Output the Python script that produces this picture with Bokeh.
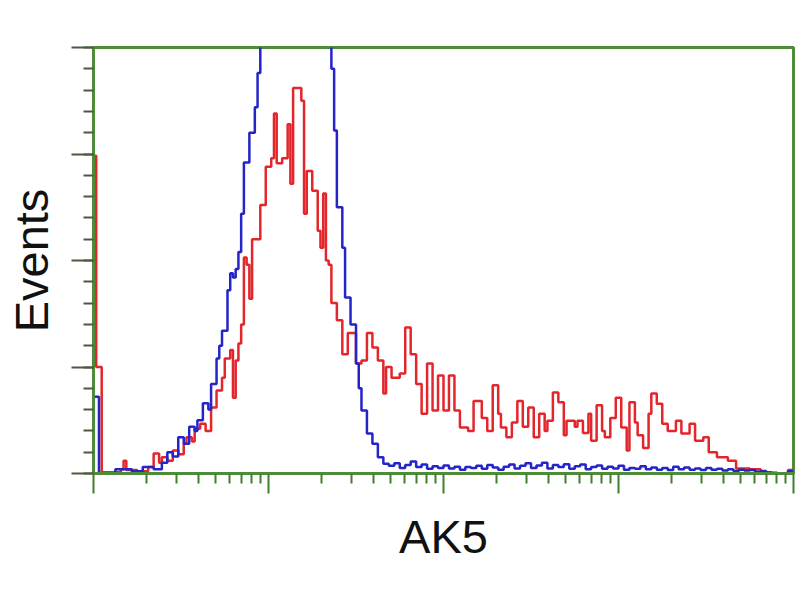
from bokeh.plotting import figure
from bokeh.models import Range1d, FixedTicker, CustomJSTickFormatter
from bokeh.embed import file_html
from bokeh.resources import INLINE

# ---- data (256-channel log histogram, 4 decades) ----
CHANNELS_PER_DECADE = 64

red_channel = [0, 1, 3, 10, 11, 12, 16, 20, 22, 24, 25, 27, 29, 31, 33, 34, 36, 37, 39, 41,
               43, 45, 47, 48, 50, 51, 52, 53, 54, 55, 56, 57, 58, 61, 63, 65, 66, 67, 69, 71,
               72, 73, 76, 77, 78, 80, 82, 83, 84, 85, 86, 87, 89, 91, 93, 96, 98, 100, 102, 104,
               106, 107, 109, 112, 114, 116, 118, 120, 122, 124, 126, 128, 130, 132, 134, 137, 139, 142, 144, 146,
               148, 149, 151, 153, 155, 157, 159, 161, 163, 165, 166, 168, 170, 172, 173, 176, 177, 179, 181, 182,
               184, 186, 187, 189, 191, 193, 195, 196, 198, 199, 201, 203, 204, 206, 208, 210, 213, 215, 218, 220,
               223, 225, 228, 232, 235, 240, 244, 248, 254, 256]
red_count = [74.6, 25, 0.3, 1, 3, 0.8, 0.5, 1.5, 4.7, 2.5, 3.8, 3, 5.4, 4.5, 7, 8.5, 7.5, 10.5, 11.7, 10,
             15.5, 19.5, 22.5, 27, 29, 17.8, 26.5, 30.5, 35, 50.7, 49, 41, 55, 63, 72, 74, 84.5, 72.8, 74, 82,
             68, 90.5, 87.5, 61, 71, 66.4, 57, 53, 65.7, 50, 49, 40, 36, 28, 33, 25.8, 26.5, 33, 29.6, 26.5,
             18.8, 25, 22.5, 23.5, 34.3, 28, 21, 14, 25.8, 14.8, 23, 14.8, 23, 14.8, 10.8, 10, 17, 13, 10, 20.7,
             14, 10.8, 8.5, 12, 17, 11, 15.5, 8.5, 14, 10, 12.4, 19, 16.7, 9, 12.4, 11, 12.4, 9.5, 14, 7.7,
             16, 10, 8.5, 13, 17.8, 10.8, 5.4, 16.7, 12, 9, 6, 14, 18.8, 16.4, 11.7, 10, 12.4, 9.4, 11.7, 7.7,
             8.5, 5, 3.8, 3, 1.2, 1, 0.3, 0, 0.8, 0.8]

blue_channel = [0, 2, 8, 14, 18, 22, 25, 27, 29, 31, 33, 35, 37, 38, 40, 42, 43, 45, 46, 47,
                49, 50, 51, 52, 53, 54, 55, 57, 59, 60, 61, 87, 88, 89, 91, 92, 94, 96, 97, 98,
                100, 102, 104, 106, 108, 110, 112, 114, 116, 118, 120, 122, 124, 126, 128, 130, 132, 134, 136, 138,
                140, 142, 144, 146, 148, 150, 152, 154, 156, 158, 160, 162, 164, 166, 168, 170, 172, 174, 176, 178,
                180, 182, 184, 186, 188, 190, 192, 194, 196, 198, 200, 202, 204, 206, 208, 210, 212, 214, 216, 218,
                220, 222, 224, 226, 228, 230, 232, 234, 236, 238, 240, 242, 244, 246, 250, 254, 256]
blue_count = [18, 0, 1, 0.5, 1.5, 1, 2.5, 5, 4, 8.5, 7, 11, 10, 12.5, 16.5, 15, 21, 27, 30, 33.5,
              43, 47, 46, 48, 52, 61, 73, 80, 86, 94, 120, 95, 80.5, 62.5, 53, 41.3, 35, 25.8, 20, 14.8,
              9.4, 7, 3.8, 2.3, 1.8, 2.4, 1.3, 2.0, 2.8, 1.5, 2.1, 1.1, 1.7, 1.3, 1.9, 1.2, 1.6, 0.9, 1.5, 1.3,
              1.8, 1.1, 2.0, 1.4, 0.9, 1.6, 2.1, 1.2, 1.8, 2.4, 1.3, 1.9, 2.5, 1.2, 2.0, 1.5, 2.2, 1.1, 1.7, 2.1,
              1.0, 1.5, 1.9, 1.1, 1.6, 1.2, 1.8, 0.9, 1.3, 1.1, 1.7, 1.0, 1.4, 0.9, 1.3, 0.8, 1.6, 1.0, 1.4, 0.9,
              1.2, 0.8, 1.3, 0.9, 1.1, 0.7, 1.0, 0.6, 0.9, 0.7, 0.8, 0.4, 0.6, 0.2, 0, 0.5, 0.5]

x_major_ticks = [1, 10, 100, 1000, 10000]
x_minor_ticks = [m * 10 ** d for d in range(4) for m in range(2, 10)]
y_major_ticks = [0, 25, 50, 75, 100]
y_minor_ticks = list(range(0, 101, 5))

x_label = "AK5"
y_label = "Events"


def to_intensity(channels):
    return [10 ** (c / CHANNELS_PER_DECADE) for c in channels]


FRAME = "#4f8c3a"
TICK_Y = "#4d5a3a"
TICK_X = "#3f7f2f"

p = figure(width=800, height=600, x_axis_type="log",
           x_range=Range1d(1, 10000), y_range=Range1d(0, 100),
           output_backend="svg", toolbar_location=None,
           min_border_left=93, min_border_right=7, min_border_top=47, min_border_bottom=127,
           x_axis_label=x_label, y_axis_label=y_label)

p.background_fill_color = "white"
p.border_fill_color = "white"
p.outline_line_color = FRAME
p.outline_line_width = 3
p.xgrid.visible = False
p.ygrid.visible = False

blank = CustomJSTickFormatter(code="return ''")

for ax in (p.xaxis, p.yaxis):
    ax.formatter = blank
    ax.major_label_standoff = 0
    ax.axis_line_color = FRAME
    ax.axis_line_width = 3
    ax.major_tick_in = 0
    ax.minor_tick_in = 0
    ax.major_tick_line_width = 2
    ax.minor_tick_line_width = 2
    ax.axis_label_text_font = "Liberation Sans"
    ax.axis_label_text_font_size = "47px"
    ax.axis_label_text_font_style = "normal"
    ax.axis_label_text_color = "#111111"

p.xaxis.ticker = FixedTicker(ticks=x_major_ticks, minor_ticks=x_minor_ticks)
p.xaxis.major_tick_out = 20
p.xaxis.minor_tick_out = 10
p.xaxis.major_tick_line_color = TICK_X
p.xaxis.minor_tick_line_color = TICK_X
p.xaxis.axis_label_standoff = 16

p.yaxis.ticker = FixedTicker(ticks=y_major_ticks, minor_ticks=y_minor_ticks)
p.yaxis.major_tick_out = 22
p.yaxis.minor_tick_out = 10
p.yaxis.major_tick_line_color = TICK_Y
p.yaxis.minor_tick_line_color = TICK_Y
p.yaxis.axis_label_standoff = 14

p.step(to_intensity(red_channel), red_count, mode="after", line_color="#e3262b", line_width=2.5)
p.step(to_intensity(blue_channel), blue_count, mode="after", line_color="#2424c8", line_width=2.5)

open("out.html", "w").write(file_html(p, INLINE))
